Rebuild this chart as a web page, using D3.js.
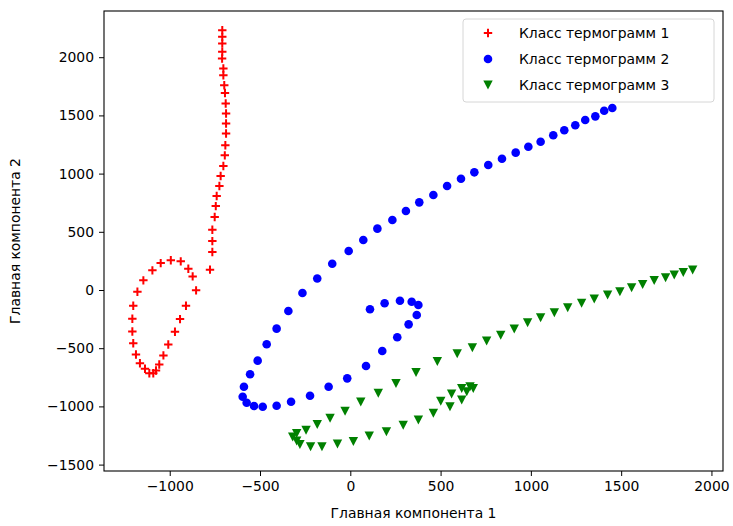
<!DOCTYPE html>
<html>
<head>
<meta charset="utf-8">
<script src="https://d3js.org/d3.v7.min.js"></script>
<style>
  body { margin: 0; background: #fff; }
  svg { display: block; font-family: "DejaVu Sans", sans-serif; }
  .tick text { font-size: 13.9px; fill: #000; }
  .tick line { stroke: #000; }
  .legend-text { font-size: 13.9px; fill: #000; }
</style>
</head>
<body>
<div id="chart"></div>
<script>
  // data
  const class1X = [-709, -709, -709, -709, -710, -703, -703, -698, -694, -690, -688, -688, -688, -692, -695, -703, -718, -725, -740, -745, -751, -764, -764, -764, -777,
    -854, -873, -897, -939, -994, -1050, -1096, -1146, -1179, -1202, -1207, -1207, -1202, -1187, -1165, -1137, -1113, -1091, -1076, -1058, -1035, -1008, -971, -943, -910];
  const class1Y = [2232, 2175, 2118, 2046, 1989, 1903, 1845, 1759, 1693, 1602, 1516, 1430, 1344, 1243, 1157, 1065, 979, 893, 807, 721, 627, 518, 420, 326, 175,
    -3, 117, 183, 246, 255, 231, 169, 83, -15, -135, -247, -356, -457, -554, -629, -677, -715, -715, -691, -640, -562, -468, -359, -250, -135];

  const class2X = [1451, 1406, 1357, 1301, 1246, 1185, 1124, 1054, 986, 916, 840, 764, 687, 613, 536, 460, 382, 308, 233, 150, 72, -9, -100, -183, -265,
    -343, -408, -463, -513, -555, -589, -596, -574, -533, -485, -408, -328, -223, -120, -17, 87, 177, 260, 323, 368, 377, 340, 275, 190, 109];
  const class2Y = [1564, 1540, 1492, 1460, 1415, 1372, 1329, 1274, 1231, 1180, 1128, 1074, 1011, 956, 893, 816, 753, 679, 601, 527, 430, 335, 226, 99, -26,
    -180, -332, -466, -607, -724, -831, -917, -968, -997, -1003, -994, -960, -908, -831, -759, -653, -524, -406, -295, -215, -129, -101, -92, -114, -166];

  const class3X = [1896, 1844, 1794, 1746, 1683, 1619, 1558, 1493, 1425, 1351, 1281, 1204, 1130, 1054, 982, 908, 833, 755, 676, 592, 482, 364, 253, 155, 58,
    -29, -112, -183, -245, -297, -319, -297, -279, -220, -157, -71, 17, 105, 200, 293, 377, 460, 501, 552, 561, 617, 617, 645, 663, 681];
  const class3Y = [172, 152, 129, 106, 83, 49, 20, -15, -43, -77, -114, -152, -195, -238, -281, -335, -387, -438, -496, -547, -614, -707, -802, -887, -962,
    -1040, -1102, -1154, -1203, -1231, -1263, -1297, -1327, -1345, -1345, -1323, -1300, -1254, -1216, -1162, -1117, -1059, -954, -1003, -893, -945, -845, -874, -831, -845];

  const xDomain = [-1364, 2064];
  const yDomain = [-1555, 2397];
  const xTicks = [-1000, -500, 0, 500, 1000, 1500, 2000];
  const yTicks = [-1500, -1000, -500, 0, 500, 1000, 1500, 2000];
  const seriesNames = ["Класс термограмм 1", "Класс термограмм 2", "Класс термограмм 3"];

  const width = 733, height = 526;
  const margin = { top: 11, right: 10, bottom: 55, left: 104 };
  const innerW = width - margin.left - margin.right;
  const innerH = height - margin.top - margin.bottom;

  const svg = d3.select("#chart").append("svg")
    .attr("width", width)
    .attr("height", height);

  const g = svg.append("g").attr("transform", `translate(${margin.left},${margin.top})`);

  const x = d3.scaleLinear().domain(xDomain).range([0, innerW]);
  const y = d3.scaleLinear().domain(yDomain).range([innerH, 0]);

  // axes
  const xAxis = g.append("g")
    .attr("transform", `translate(0,${innerH})`)
    .call(d3.axisBottom(x).tickValues(xTicks).tickSize(5).tickPadding(5).tickFormat(d3.format("d")));
  const yAxis = g.append("g")
    .call(d3.axisLeft(y).tickValues(yTicks).tickSize(5).tickPadding(5).tickFormat(d3.format("d")));
  [xAxis, yAxis].forEach(a => {
    a.select(".domain").remove();
    a.selectAll(".tick text").attr("font-family", "DejaVu Sans").text(d => String(d).replace("-", "\u2212"));
  });

  // markers
  const pts = (xs, ys) => xs.map((v, i) => ({ x: v, y: ys[i] }));

  const plus = d3.symbol().type(d3.symbolCross);
  g.append("g").selectAll("path")
    .data(pts(class1X, class1Y))
    .enter().append("path")
    .attr("d", "M-4.2,0H4.2M0,-4.2V4.2")
    .attr("transform", d => `translate(${x(d.x)},${y(d.y)})`)
    .attr("stroke", "#ff0000")
    .attr("stroke-width", 2)
    .attr("fill", "none");

  g.append("g").selectAll("circle")
    .data(pts(class2X, class2Y))
    .enter().append("circle")
    .attr("cx", d => x(d.x))
    .attr("cy", d => y(d.y))
    .attr("r", 4.3)
    .attr("fill", "#0000ff");

  g.append("g").selectAll("path")
    .data(pts(class3X, class3Y))
    .enter().append("path")
    .attr("d", "M-4.7,-4.4L4.7,-4.4L0,4.6Z")
    .attr("transform", d => `translate(${x(d.x)},${y(d.y)})`)
    .attr("fill", "#008000");

  // frame
  g.append("rect")
    .attr("width", innerW)
    .attr("height", innerH)
    .attr("fill", "none")
    .attr("stroke", "#000")
    .attr("stroke-width", 1.1);

  // axis labels
  svg.append("text")
    .attr("x", margin.left + innerW / 2)
    .attr("y", 518)
    .attr("text-anchor", "middle")
    .attr("font-size", "13.9px")
    .text("Главная компонента 1");
  svg.append("text")
    .attr("transform", `translate(20,${margin.top + innerH / 2}) rotate(-90)`)
    .attr("text-anchor", "middle")
    .attr("font-size", "13.9px")
    .text("Главная компонента 2");

  // legend
  const legend = svg.append("g").attr("transform", "translate(463,19)");
  legend.append("rect")
    .attr("width", 251)
    .attr("height", 83)
    .attr("rx", 3)
    .attr("fill", "rgba(255,255,255,0.8)")
    .attr("stroke", "#d6d6d6");
  const rows = [
    { d: "M-4.2,0H4.2M0,-4.2V4.2", color: "#ff0000", type: "plus" },
    { color: "#0000ff", type: "circle" },
    { d: "M-4.7,-4.4L4.7,-4.4L0,4.6Z", color: "#008000", type: "tri" }
  ];
  rows.forEach((r, i) => {
    const row = legend.append("g").attr("transform", `translate(25,${14 + i * 26})`);
    if (r.type === "plus") {
      row.append("path").attr("d", r.d).attr("stroke", r.color).attr("stroke-width", 2).attr("fill", "none");
    } else if (r.type === "circle") {
      row.append("circle").attr("r", 4.3).attr("fill", r.color);
    } else {
      row.append("path").attr("d", r.d).attr("fill", r.color);
    }
    row.append("text")
      .attr("class", "legend-text")
      .attr("x", 31)
      .attr("dy", "0.35em")
      .text(seriesNames[i]);
  });
</script>
</body>
</html>
